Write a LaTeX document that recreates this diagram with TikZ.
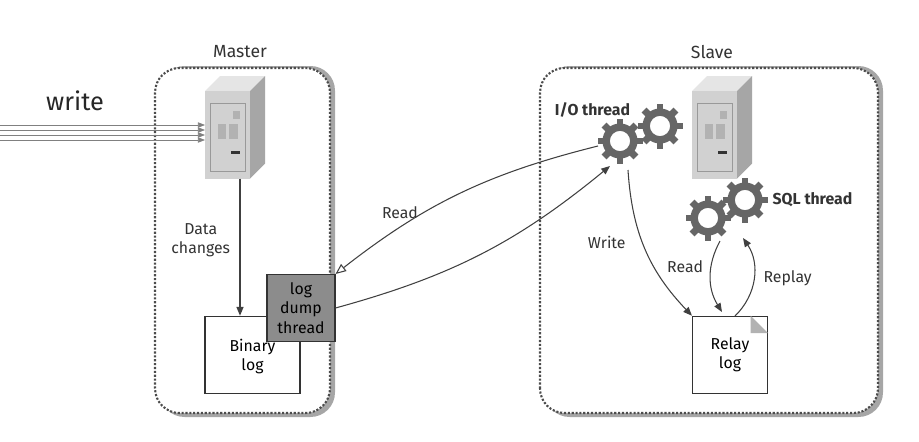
\documentclass[tikz,border=0pt]{standalone}
\usepackage{fontspec}
\setmainfont{Fira Sans}
\usetikzlibrary{arrows.meta,positioning,shadows}
\tikzset{
	box/.style={draw=black!70, densely dotted, line width=1.2pt, rounded corners=14pt},
	doc/.style={draw=black!80, fill=white, line width=0.6pt, align=center, font=\small},
	lbl/.style={font=\small, text=black!80, align=center},
	flow/.style={draw=black!75, line width=0.6pt, -{Triangle[length=5pt,width=4pt]}},
}
% gear: center, radius
\newcommand{\gear}[2]{%
	\fill[black!60, even odd rule] #1 circle[radius=#2*0.78] #1 circle[radius=#2*0.45];
	\foreach \a in {0,45,...,315}
		\fill[black!60, shift={#1}, rotate=\a] (#2*0.7,-#2*0.15) rectangle (#2,#2*0.15);
}
% server box
\newcommand{\server}[2]{%
	\begin{scope}[shift={(#1,#2)}]
		\fill[black!10] (0,0) -- (0.3,0.3) -- (1.2,0.3) -- (0.9,0) -- cycle;
		\fill[black!35] (0.9,0) -- (1.2,0.3) -- (1.2,-1.45) -- (0.9,-1.75) -- cycle;
		\fill[black!18] (0,0) rectangle (0.9,-1.75);
		\draw[black!40] (0.1,-0.25) rectangle (0.8,-1.6);
		\fill[black!30] (0.55,-0.4) rectangle (0.7,-0.55);
		\fill[black!30] (0.25,-0.65) rectangle (0.42,-0.95);
		\fill[black!30] (0.48,-0.65) rectangle (0.65,-0.95);
		\fill[black!80] (0.52,-1.2) rectangle (0.7,-1.25);
	\end{scope}
}
\begin{document}
\begin{tikzpicture}
	\useasboundingbox (0,0) rectangle (18.38,8.82);

	% boxes with shadow
	\fill[black!35, rounded corners=14pt] (3.2,0.48) rectangle (6.7,7.5);
	\fill[white, rounded corners=14pt] (3.1,0.56) rectangle (6.6,7.46);
	\draw[box] (3.1,0.56) rectangle (6.6,7.46);
	\fill[black!35, rounded corners=14pt] (10.9,0.48) rectangle (17.66,7.5);
	\fill[white, rounded corners=14pt] (10.8,0.56) rectangle (17.56,7.46);
	\draw[box] (10.8,0.56) rectangle (17.56,7.46);

	\node[lbl, font=\normalsize] (master) at (4.8,7.78) {Master};
	\node[lbl, font=\normalsize] (slave) at (14.24,7.78) {Slave};

	% servers
	\server{4.1}{7.0}
	\server{13.84}{7.0}
	\coordinate (msrv) at (4.8,5.25);

	% incoming writes
	\node[font=\Large, text=black!85] (write) at (1.5,6.8) {write};
	\foreach \y in {6.32,6.22,6.12,6.02}
		\draw[black!50, -{Triangle[length=4pt,width=3pt]}] (0,\y) -- (4.1,\y);

	% documents
	\node[doc, minimum width=1.9cm, minimum height=1.55cm, text depth=0pt] (binlog) at (5.05,1.72) {Binary\\log};
	\node[doc, draw=black!80, fill=black!45, minimum width=1.36cm, minimum height=1.34cm] (dump) at (6.02,2.66) {log\\dump\\thread};
	\node[doc, minimum width=1.5cm, minimum height=1.55cm] (relay) at (14.6,1.72) {Relay\\log};
	\fill[black!30] ([xshift=-0.35cm]relay.north east) -- ++(0,-0.35) -- ++(0.35,0) -- cycle;

	% gears
	\gear{(12.4,6.0)}{0.45}
	\gear{(13.2,6.3)}{0.45}
	\gear{(14.16,4.46)}{0.45}
	\gear{(14.9,4.82)}{0.45}
	\node[lbl, font=\small\bfseries] (iolbl) at (11.85,6.62) {I/O thread};
	\node[lbl, font=\small\bfseries] (sqllbl) at (16.25,4.82) {SQL thread};

	% connectors
	\draw[flow] (msrv) -- node[lbl, left=2pt, pos=0.45] {Data\\changes} (binlog.north -| msrv);
	\draw[black!75, line width=0.6pt, {Triangle[open,length=6pt,width=5pt]}-] (dump.north east) to[bend left=12] (11.96,5.9);
	\node[lbl] (readlbl) at (8,4.56) {Read};
	\draw[flow] (dump.east) to[bend right=12] (12.2,5.5);
	\draw[flow] (12.56,5.42) to[bend right=20] node[lbl, left=6pt, pos=0.45] {Write} (relay.north west);
	\draw[flow] (14.4,4.0) to[bend right=30] node[lbl, left=1pt, pos=0.35] {Read} (14.44,2.58);
	\draw[flow] (14.7,2.5) to[bend right=40] node[lbl, right=2pt, pos=0.5] {Replay} (14.86,4.06);
\end{tikzpicture}
\end{document}
